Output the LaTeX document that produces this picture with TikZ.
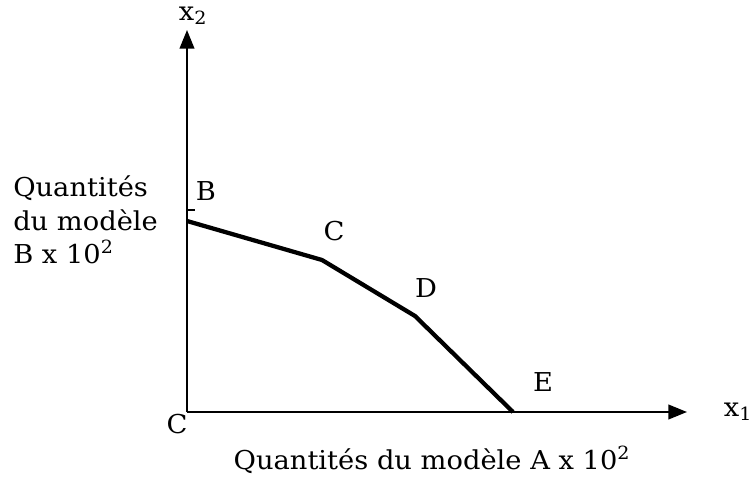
\documentclass[tikz,border=0pt]{standalone}
\usepackage{fontspec}
\setmainfont[FakeStretch=1.05]{DejaVu Serif}
\usetikzlibrary{arrows.meta}
\begin{document}
\begin{tikzpicture}[x=0.75pt,y=-0.75pt,
  lbl/.style={inner sep=0pt,font=\fontsize{19.5}{24}\selectfont},
  axis/.style={line width=1.5pt,-{Triangle[length=14pt,width=11pt]}},
  curve/.style={line width=3.2pt,line join=round}]
\useasboundingbox (0,0) rectangle (750,477);
\coordinate (O) at (187,412);
\coordinate (Ytop) at (187,30);
\coordinate (Xend) at (687,412);
\draw[axis] (O) -- (Ytop);
\draw[axis] (O) -- (Xend);
\coordinate (pB) at (187,221);
\coordinate (pC) at (322,260);
\coordinate (pD) at (415,316);
\coordinate (pE) at (513,412);
\coordinate (tB1) at (187,210);
\coordinate (tB2) at (195,210);
\draw[line width=1.5pt] (tB1) -- (tB2);
\draw[curve] (pB) -- (pC) -- (pD) -- (pE);
\node[lbl] (x2) at (193,16) {x\textsubscript{2}};
\node[lbl] (x1) at (738,412) {x\textsubscript{1}};
\node[lbl] (lB) at (206,191) {B};
\node[lbl] (lC) at (334,231) {C};
\node[lbl] (lD) at (426,288) {D};
\node[lbl] (lE) at (543,382) {E};
\node[lbl] (lO) at (177,424) {C};
\node[lbl,anchor=west] (ylab1) at (13,188) {Quantités};
\node[lbl,anchor=west] (ylab2) at (13,220) {du modèle};
\node[lbl,anchor=west] (ylab3) at (13,252) {B x 10\textsuperscript{2}};
\node[lbl] (xlab) at (432,460) {Quantités du modèle A x 10\textsuperscript{2}};
\end{tikzpicture}
\end{document}
